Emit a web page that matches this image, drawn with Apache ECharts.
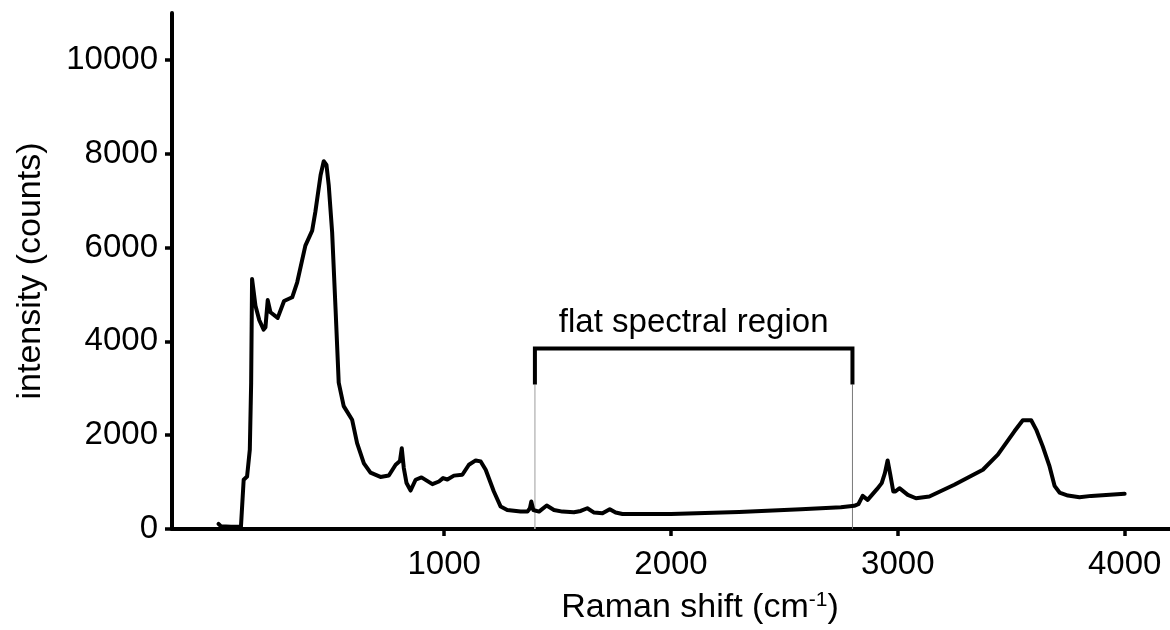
<!DOCTYPE html>
<html>
<head>
<meta charset="utf-8">
<title>Raman spectrum</title>
<script src="https://cdn.jsdelivr.net/npm/echarts@6/dist/echarts.min.js"></script>
<style>
  html, body { margin: 0; padding: 0; background: #fff; }
  #chart { width: 1170px; height: 630px; }
</style>
</head>
<body>
<div id="chart"></div>
<script>
// Raman spectrum: [shift (cm^-1), intensity (counts)]
const spectrum = [
  [5, 110], [15, 60], [60, 50], [104, 50], [116, 1050], [131, 1120], [143, 1690],
  [149, 3120], [153, 5330], [168, 4760], [185, 4450], [204, 4250], [212, 4300],
  [222, 4880], [234, 4620], [266, 4500], [294, 4860], [330, 4940], [352, 5260],
  [388, 6040], [418, 6360], [432, 6760], [455, 7540], [469, 7840], [481, 7760],
  [491, 7330], [506, 6330], [521, 4700], [535, 3120], [557, 2620], [594, 2330],
  [616, 1830], [646, 1400], [675, 1200], [719, 1110], [756, 1140], [786, 1370],
  [805, 1450], [813, 1720], [822, 1300], [834, 980], [852, 820], [874, 1050],
  [900, 1100], [948, 956], [977, 1013], [995, 1085], [1014, 1055], [1043, 1138],
  [1080, 1156], [1109, 1370], [1139, 1462], [1161, 1441], [1183, 1263], [1219, 799],
  [1249, 478], [1278, 406], [1337, 371], [1367, 371], [1378, 442], [1384, 585],
  [1393, 406], [1418, 371], [1452, 500], [1484, 406], [1521, 371], [1572, 357],
  [1602, 385], [1631, 442], [1661, 350], [1698, 335], [1730, 421], [1756, 350],
  [1786, 320], [2000, 320], [2300, 360], [2573, 421], [2749, 464], [2808, 495],
  [2826, 528], [2845, 706], [2867, 621], [2908, 849], [2929, 978], [2943, 1191],
  [2955, 1462], [2967, 1156], [2980, 799], [2989, 799], [3007, 870], [3044, 728],
  [3080, 656], [3139, 692], [3249, 942], [3375, 1263], [3441, 1584], [3514, 2083],
  [3551, 2318], [3588, 2318], [3610, 2119], [3639, 1761], [3669, 1333], [3691, 920],
  [3713, 777], [3750, 713], [3801, 678], [3853, 706], [4000, 749]
];

// tick labels
const xTicks = [1000, 2000, 3000, 4000];
const yTicks = [0, 2000, 4000, 6000, 8000, 10000];

// bracket marking the flat spectral region
const regionStart = 1400;
const regionEnd = 2800;
const bracketTop = 3850;
const bracketFoot = 3080;
const regionLabel = 'flat spectral region';

const bracket = [
  [regionStart, bracketFoot], [regionStart, bracketTop],
  [regionEnd, bracketTop], [regionEnd, bracketFoot]
];
const leftGuide = [[regionStart, 0], [regionStart, bracketFoot]];
const rightGuide = [[regionEnd, 0], [regionEnd, bracketFoot]];
const labelAnchor = [[(regionStart + regionEnd) / 2, bracketTop]];

const FONT = '"Liberation Sans", Arial, sans-serif';
const plain = v => String(v);

const chart = echarts.init(document.getElementById('chart'), null, { renderer: 'canvas' });

chart.setOption({
  animation: false,
  backgroundColor: '#ffffff',
  grid: { left: 172, right: 0, top: 13, bottom: 101, containLabel: false },
  xAxis: {
    type: 'value',
    min: -200,
    max: 4200,
    name: 'Raman shift (cm{sup|-1})',
    nameLocation: 'middle',
    nameGap: 61,
    nameTextStyle: {
      fontFamily: FONT, fontSize: 34, color: '#000',
      padding: [0, 0, 0, 58],
      rich: {
        sup: { fontFamily: FONT, fontSize: 21, color: '#000', verticalAlign: 'top', padding: [0, 0, 14, 0] }
      }
    },
    axisLine: { show: true, onZero: false, lineStyle: { color: '#000', width: 4 } },
    axisTick: { show: true, length: 7, customValues: xTicks, lineStyle: { color: '#000', width: 3.5 } },
    axisLabel: { show: true, customValues: xTicks, formatter: plain, margin: 19, fontFamily: FONT, fontSize: 33, color: '#000' },
    splitLine: { show: false }
  },
  yAxis: {
    type: 'value',
    min: 0,
    max: 11000,
    name: 'intensity (counts)',
    nameLocation: 'middle',
    nameGap: 124,
    nameTextStyle: { fontFamily: FONT, fontSize: 34, color: '#000' },
    axisLine: { show: true, onZero: false, lineStyle: { color: '#000', width: 4 } },
    axisTick: { show: true, length: 7, customValues: yTicks, lineStyle: { color: '#000', width: 3.5 } },
    axisLabel: { show: true, customValues: yTicks, formatter: plain, margin: 14, fontFamily: FONT, fontSize: 33, color: '#000' },
    splitLine: { show: false }
  },
  series: [
    {
      name: 'left guide',
      type: 'line',
      data: leftGuide,
      symbol: 'none',
      silent: true,
      lineStyle: { color: '#bdbdbd', width: 1.5 },
      z: 1
    },
    {
      name: 'right guide',
      type: 'line',
      data: rightGuide,
      symbol: 'none',
      silent: true,
      lineStyle: { color: '#7a7a7a', width: 1 },
      z: 1
    },
    {
      name: 'spectrum',
      type: 'line',
      data: spectrum,
      symbol: 'none',
      smooth: false,
      lineStyle: { color: '#000', width: 4, join: 'round', cap: 'round' },
      z: 3
    },
    {
      name: 'bracket',
      type: 'line',
      data: bracket,
      symbol: 'none',
      silent: true,
      lineStyle: { color: '#000', width: 4, join: 'miter' },
      z: 2
    },
    {
      name: 'region label',
      type: 'scatter',
      data: labelAnchor,
      symbolSize: 0,
      silent: true,
      itemStyle: { opacity: 1 },
      label: {
        show: true,
        position: 'top',
        distance: 9,
        formatter: regionLabel,
        fontFamily: FONT,
        fontSize: 33,
        color: '#000',
        opacity: 1,
        textBorderWidth: 0
      },
      z: 4
    }
  ]
});
</script>
</body>
</html>
